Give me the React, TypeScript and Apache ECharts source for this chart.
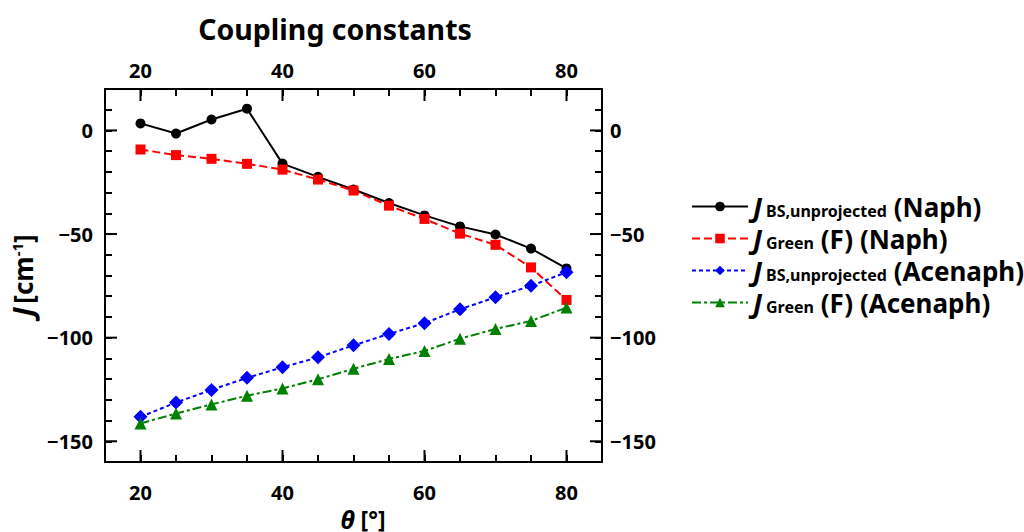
import React, { useEffect, useRef } from "react";
import * as echarts from "echarts";

const thetaValues = [20, 25, 30, 35, 40, 45, 50, 55, 60, 65, 70, 75, 80];
const naphBS = [3.4, -1.5, 5.3, 10.5, -16, -22.4, -28.5, -35, -41, -46.3, -50.2, -57, -66.6];
const naphGreen = [-9.2, -11.9, -13.7, -16.1, -18.9, -23.7, -29, -36.3, -42.7, -49.8, -55.2, -66.1, -81.8];
const acenBS = [-138.2, -131.3, -125.2, -119.4, -114.3, -109.5, -103.7, -98.2, -93, -86.3, -80.5, -75, -68.4];
const acenGreen = [-141.4, -136.6, -132.2, -128, -124.5, -120.1, -115, -110.3, -106.4, -100.5, -95.8, -91.9, -85.5];
const majorX = [20, 40, 60, 80];
const majorY = [0, -50, -100, -150];
const seriesNames = ["naphBS", "naphGreen", "acenBS", "acenGreen"];

const FONT = "Noto Sans";

export default function App() {
  const ref = useRef<HTMLDivElement>(null);
  useEffect(() => {
    if (!ref.current) return;
    const chart = echarts.init(ref.current, undefined, { renderer: "svg" });
    const X_MIN = 15, X_MAX = 85, Y_MIN = -160, Y_MAX = 20;
    const pair = (ys: number[]) => thetaValues.map((x, i) => [x, ys[i]]);
    const tickData: number[][] = [];
    majorX.forEach((x) => { tickData.push([x, Y_MIN, 2]); tickData.push([x, Y_MAX, 3]); });
    majorY.forEach((y) => { tickData.push([X_MIN, y, 0]); tickData.push([X_MAX, y, 1]); });

    const labelStyle = { fontSize: 20, fontWeight: "bold" as const, color: "#000", fontFamily: FONT };
    const fmtX = (v: number) => (v % 20 === 0 ? String(v) : "");
    const fmtY = (v: number) => (v % 50 === 0 ? String(v).replace("-", "\u2212") : "");
    const axisCommon = {
      axisLine: { show: true, onZero: false, lineStyle: { color: "#000", width: 2 } },
      axisTick: { show: true, inside: true, length: 7, lineStyle: { color: "#000", width: 2 } },
      splitLine: { show: false },
    };
    const legendRich = {
      j: { fontSize: 27, fontStyle: "italic", fontWeight: "bold", fontFamily: FONT, color: "#000", padding: [0, 4, 0, 0] },
      sub: { fontSize: 16, fontWeight: "bold", fontFamily: FONT, color: "#000", padding: [9, 0, 0, 0] },
      t: { fontSize: 26, fontWeight: "bold", fontFamily: FONT, color: "#000" },
    };
    const legendText: Record<string, string> = {
      naphBS: "{j|J}{sub|BS,unprojected}{t| (Naph)}",
      naphGreen: "{j|J}{sub|Green}{t| (F) (Naph)}",
      acenBS: "{j|J}{sub|BS,unprojected}{t| (Acenaph)}",
      acenGreen: "{j|J}{sub|Green}{t| (F) (Acenaph)}",
    };

    chart.setOption({
      animation: false,
      backgroundColor: "#fff",
      title: {
        text: "Coupling constants",
        left: 330,
        textAlign: "center",
        top: 9,
        textStyle: { fontSize: 28.5, fontWeight: "bold", color: "#000", fontFamily: FONT },
      },
      grid: { left: 105, right: 422, top: 89, height: 373, containLabel: false, outerBoundsMode: "none" },
      legend: {
        orient: "vertical",
        left: 686,
        top: 188,
        itemWidth: 56,
        itemHeight: 12,
        itemGap: 5,
        data: seriesNames,
        formatter: (name: string) => legendText[name],
        textStyle: { rich: legendRich, fontSize: 26, fontWeight: "bold", fontFamily: FONT, color: "#000" },
      },
      graphic: [
        {
          type: "text",
          x: 363,
          y: 519,
          style: {
            text: "{th|\u03b8}{t| [\u00b0]}",
            align: "center",
            verticalAlign: "middle",
            rich: {
              th: { fontSize: 25, fontStyle: "italic", fontWeight: "bold", fontFamily: FONT, fill: "#000", color: "#000" },
              t: { fontSize: 23, fontWeight: "bold", fontFamily: FONT, fill: "#000", color: "#000" },
            },
          },
        },
      ],
      xAxis: [
        {
          type: "value", position: "bottom", min: X_MIN, max: X_MAX, interval: 5, ...axisCommon,
          axisLabel: { ...labelStyle, formatter: fmtX, margin: 20 },
        },
        {
          type: "value", position: "top", min: X_MIN, max: X_MAX, interval: 5, ...axisCommon,
          axisLabel: { ...labelStyle, formatter: fmtX, margin: 9 },
        },
      ],
      yAxis: [
        {
          type: "value", position: "left", min: Y_MIN, max: Y_MAX, interval: 10, ...axisCommon,
          axisLabel: { ...labelStyle, formatter: fmtY, margin: 12 },
          name: "{j|J} {t|[cm}{sup|-1}{t|]}",
          nameLocation: "middle",
          nameGap: 68,
          nameMoveOverlap: false,
          nameRotate: 90,
          nameTextStyle: {
            rich: {
              j: { fontSize: 29, fontStyle: "italic", fontWeight: "bold", fontFamily: FONT, color: "#000" },
              t: { fontSize: 26, fontWeight: "bold", fontFamily: FONT, color: "#000" },
              sup: { fontSize: 15, fontWeight: "bold", fontFamily: FONT, color: "#000", padding: [0, 0, 12, 0] },
            },
          },
        },
        {
          type: "value", position: "right", min: Y_MIN, max: Y_MAX, interval: 10, ...axisCommon,
          axisLabel: { ...labelStyle, formatter: fmtY, margin: 8 },
        },
      ],
      series: [
        {
          name: "naphBS", type: "line", data: pair(naphBS), symbol: "circle", symbolSize: 10,
          itemStyle: { color: "#000" }, lineStyle: { color: "#000", width: 2, type: "solid" },
        },
        {
          name: "naphGreen", type: "line", data: pair(naphGreen), symbol: "rect", symbolSize: 10,
          itemStyle: { color: "#ff0000" }, lineStyle: { color: "#ff0000", width: 2, type: [8, 4] },
        },
        {
          name: "acenBS", type: "line", data: pair(acenBS), symbol: "diamond", symbolSize: 14,
          itemStyle: { color: "#0000ff" }, lineStyle: { color: "#0000ff", width: 2, type: [4, 3] },
        },
        {
          name: "acenGreen", type: "line", data: pair(acenGreen), symbol: "triangle", symbolSize: 12,
          itemStyle: { color: "#008000" }, lineStyle: { color: "#008000", width: 2, type: [9, 3, 3, 3] },
        },
        {
          name: "majorTicks", type: "custom", silent: true, clip: false, data: tickData,
          renderItem: (params: any, api: any) => {
            const p = api.coord([api.value(0), api.value(1)]);
            const o = api.value(2);
            const L = 12;
            let x2 = p[0], y2 = p[1];
            if (o === 0) x2 += L; else if (o === 1) x2 -= L; else if (o === 2) y2 -= L; else y2 += L;
            return {
              type: "line",
              shape: { x1: p[0], y1: p[1], x2, y2 },
              style: { stroke: "#000", lineWidth: 2 },
            };
          },
        },
      ],
    });
    return () => chart.dispose();
  }, []);
  return (
    <div
      ref={ref}
      style={{ position: "fixed", left: 0, top: 0, width: 1024, height: 532, background: "#fff" }}
    />
  );
}
